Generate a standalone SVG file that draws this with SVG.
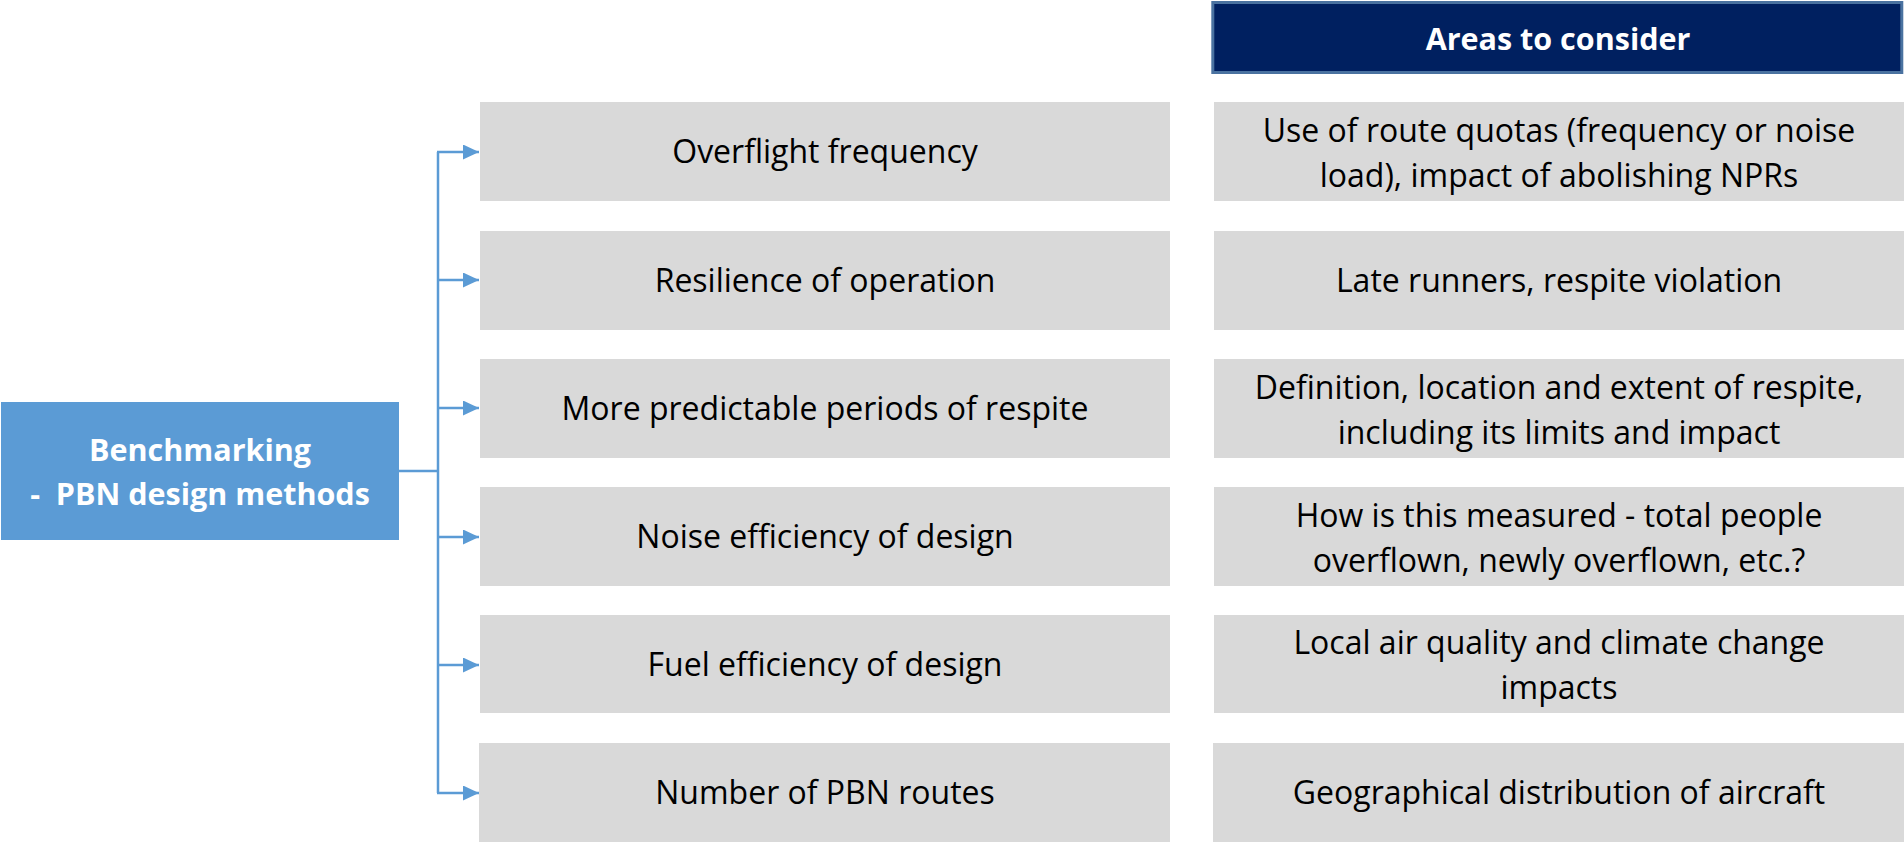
<svg xmlns="http://www.w3.org/2000/svg" width="1904" height="842" viewBox="0 0 1904 842">
<style>
.box{fill:#D9D9D9;}
.t{font-family:"Open Sans","Liberation Sans",sans-serif;font-size:32px;fill:#000000;text-anchor:middle;}
.tb{font-family:"Open Sans","Liberation Sans",sans-serif;font-size:30.5px;font-weight:bold;fill:#FFFFFF;text-anchor:middle;}
.conn{stroke:#5B9BD5;stroke-width:2.5;fill:none;}
</style>
<defs>
<marker id="arr" markerUnits="userSpaceOnUse" markerWidth="17" markerHeight="16" refX="16" refY="7.5" orient="auto">
<path d="M0,0 L16,7.5 L0,15 Z" fill="#5B9BD5"/>
</marker>
</defs>
<rect width="1904" height="842" fill="#FFFFFF"/>

<g id="header">
<rect x="1212.8" y="2.5" width="689" height="70" fill="#002060" stroke="#4A72A0" stroke-width="3"/>
<text class="tb" x="1558" y="50">Areas to consider</text>
</g>

<g id="root">
<rect x="1" y="402" width="398" height="138" fill="#5B9BD5"/>
<text class="tb" x="200" y="461">Benchmarking</text>
<text class="tb" x="200" y="505" xml:space="preserve">-  PBN design methods</text>
</g>

<g id="connectors">
<path class="conn" d="M399,471 H438"/>
<path class="conn" d="M438,152 V793"/>
<path class="conn" d="M437,152 H479" marker-end="url(#arr)"/>
<path class="conn" d="M437,280 H479" marker-end="url(#arr)"/>
<path class="conn" d="M437,408 H479" marker-end="url(#arr)"/>
<path class="conn" d="M437,537 H479" marker-end="url(#arr)"/>
<path class="conn" d="M437,665 H479" marker-end="url(#arr)"/>
<path class="conn" d="M437,793 H479" marker-end="url(#arr)"/>
</g>

<g id="item1">
<rect class="box" x="480" y="102" width="690" height="99"/>
<text class="t" x="825" y="163">Overflight frequency</text>
</g>
<g id="area1">
<rect class="box" x="1214" y="102" width="690" height="99"/>
<text class="t" x="1559" y="142">Use of route quotas (frequency or noise</text>
<text class="t" x="1559" y="187">load), impact of abolishing NPRs</text>
</g>

<g id="item2">
<rect class="box" x="480" y="231" width="690" height="99"/>
<text class="t" x="825" y="292">Resilience of operation</text>
</g>
<g id="area2">
<rect class="box" x="1214" y="231" width="690" height="99"/>
<text class="t" x="1559" y="292">Late runners, respite violation</text>
</g>

<g id="item3">
<rect class="box" x="480" y="359" width="690" height="99"/>
<text class="t" x="825" y="420">More predictable periods of respite</text>
</g>
<g id="area3">
<rect class="box" x="1214" y="359" width="690" height="99"/>
<text class="t" x="1559" y="399">Definition, location and extent of respite,</text>
<text class="t" x="1559" y="444">including its limits and impact</text>
</g>

<g id="item4">
<rect class="box" x="480" y="487" width="690" height="99"/>
<text class="t" x="825" y="548">Noise efficiency of design</text>
</g>
<g id="area4">
<rect class="box" x="1214" y="487" width="690" height="99"/>
<text class="t" x="1559" y="527">How is this measured - total people</text>
<text class="t" x="1559" y="572">overflown, newly overflown, etc.?</text>
</g>

<g id="item5">
<rect class="box" x="480" y="615" width="690" height="98"/>
<text class="t" x="825" y="676">Fuel efficiency of design</text>
</g>
<g id="area5">
<rect class="box" x="1214" y="615" width="690" height="98"/>
<text class="t" x="1559" y="654">Local air quality and climate change</text>
<text class="t" x="1559" y="699">impacts</text>
</g>

<g id="item6">
<rect class="box" x="479" y="743" width="691" height="99"/>
<text class="t" x="825" y="804">Number of PBN routes</text>
</g>
<g id="area6">
<rect class="box" x="1213" y="743" width="691" height="99"/>
<text class="t" x="1559" y="804">Geographical distribution of aircraft</text>
</g>
</svg>
